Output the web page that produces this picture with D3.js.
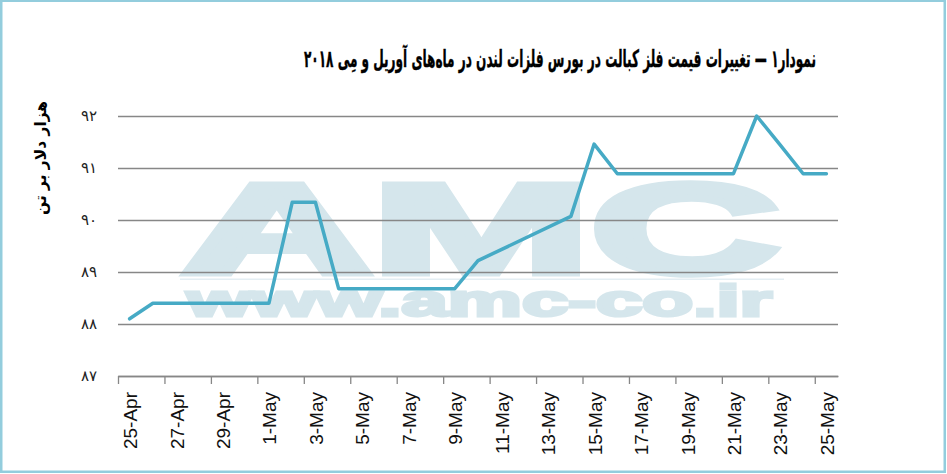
<!DOCTYPE html>
<html>
<head>
<meta charset="utf-8">
<script src="https://cdn.jsdelivr.net/npm/d3@7"></script>
<style>
  html, body { margin: 0; padding: 0; background: #fff; }
  svg { display: block; }
</style>
</head>
<body>
<svg id="chart" width="947" height="474"></svg>
<script>
// ---- data ----
const dates = ["2018-04-25","2018-04-26","2018-04-27","2018-04-30","2018-05-01","2018-05-02","2018-05-03","2018-05-04",
               "2018-05-08","2018-05-09","2018-05-10","2018-05-11","2018-05-14","2018-05-15","2018-05-16","2018-05-17",
               "2018-05-18","2018-05-21","2018-05-22","2018-05-23","2018-05-24","2018-05-25"];
const prices = [88.10, 88.40, 88.40, 88.40, 88.40, 90.34, 90.34, 88.68,
                88.68, 88.68, 89.22, 89.43, 90.07, 91.46, 90.89, 90.89,
                90.89, 90.89, 92.00, 91.45, 90.89, 90.89];
const xTickLabels = ["2018-04-25","2018-04-27","2018-04-29","2018-05-01","2018-05-03","2018-05-05","2018-05-07","2018-05-09",
                     "2018-05-11","2018-05-13","2018-05-15","2018-05-17","2018-05-19","2018-05-21","2018-05-23","2018-05-25"];
const yTicks = [87, 88, 89, 90, 91, 92];
const title = "نمودار۱ — تغییرات قیمت فلز کبالت در بورس فلزات لندن در ماه‌های آوریل و مِی ۲۰۱۸";
const yTitle = "هزار دلار بر تن";
const watermarkBig = "AMC";
const watermarkSmall = "www.amc-co.ir";

(function () {
// ---- layout ----
const svg = d3.select("#chart");
const pLeft = 118, pRight = 838, pTop = 116, pBottom = 376;
const parse = d3.utcParse("%Y-%m-%d");
const HALF = 12 * 3600 * 1000;

const x = d3.scaleUtc()
  .domain([new Date(+parse("2018-04-25") - HALF), new Date(+parse("2018-05-25") + HALF)])
  .range([pLeft, pRight]);
const y = d3.scaleLinear().domain([87, 92]).range([pBottom, pTop]);

const toFa = s => String(s).replace(/[0-9]/g, d => "۰۱۲۳۴۵۶۷۸۹"[+d]);

// frame
svg.append("rect").attr("x", 1.25).attr("y", 0.75).attr("width", 943.5).attr("height", 471)
  .attr("fill", "#fff").attr("stroke", "#93cddd").attr("stroke-width", 2.5);

// watermark
const wmColor = "rgb(213,230,236)";
const wm = svg.append("g").attr("fill", wmColor).attr("stroke", wmColor).attr("stroke-linejoin", "miter");
wm.append("text").attr("x", 182).attr("y", 273)
  .attr("font-family", "Liberation Sans, Arial, sans-serif").attr("font-weight", "bold")
  .attr("font-size", 128).attr("textLength", 598).attr("lengthAdjust", "spacingAndGlyphs")
  .attr("stroke-width", 7)
  .text(watermarkBig);
wm.append("rect").attr("x", 180).attr("y", 278.5).attr("width", 604).attr("height", 1.5)
  .attr("stroke", "none").attr("fill", "rgb(228,238,243)");
wm.append("text").attr("x", 187).attr("y", 316)
  .attr("font-family", "Liberation Sans, Arial, sans-serif").attr("font-weight", "bold")
  .attr("font-size", 44).attr("textLength", 585).attr("lengthAdjust", "spacingAndGlyphs")
  .attr("stroke-width", 3)
  .text(watermarkSmall);

// gridlines + y labels
const yAxis = d3.axisLeft(y).tickValues(yTicks).tickSize(-(pRight - pLeft)).tickPadding(21)
  .tickFormat(d => toFa(d));
const gy = svg.append("g").attr("transform", `translate(${pLeft},0)`).call(yAxis);
gy.select(".domain").remove();
gy.selectAll(".tick line").attr("stroke", "#878787").attr("stroke-width", 1.3);
gy.selectAll(".tick text").attr("font-family", "DejaVu Sans, sans-serif").attr("font-size", 15)
  .attr("letter-spacing", 3).attr("fill", "#222");

// x axis ticks (at category boundaries)
const boundaries = xTickLabels.map(s => new Date(+parse(s) - HALF));
const xAxisTicks = d3.axisBottom(x).tickValues(boundaries).tickSize(8).tickFormat("").tickSizeOuter(0);
const gx = svg.append("g").attr("transform", `translate(0,${pBottom})`).call(xAxisTicks);
gx.select(".domain").attr("stroke", "#878787").attr("stroke-width", 1.3);
gx.selectAll(".tick line").attr("stroke", "#878787").attr("stroke-width", 1.3);

// x labels at category centers
const fmt = d3.utcFormat("%-d-%b");
const xAxisLabels = d3.axisBottom(x).tickValues(xTickLabels.map(parse)).tickSize(0).tickFormat(fmt);
const gxl = svg.append("g").attr("transform", `translate(0,${pBottom})`).call(xAxisLabels);
gxl.select(".domain").remove();
gxl.selectAll(".tick text")
  .attr("font-family", "Liberation Sans, Arial, sans-serif").attr("font-size", 19).attr("fill", "#111")
  .attr("text-anchor", "end").attr("dy", null).attr("y", 0)
  .attr("transform", "translate(7,16) rotate(-90)");

// line
const line = d3.line().x((d, i) => x(parse(dates[i]))).y(d => y(d));
svg.append("path").datum(prices).attr("d", line)
  .attr("fill", "none").attr("stroke", "#46aac5").attr("stroke-width", 3.5)
  .attr("stroke-linejoin", "round").attr("stroke-linecap", "round");

// title
svg.append("text").attr("x", 560).attr("y", 67).attr("text-anchor", "middle")
  .attr("direction", "rtl")
  .attr("font-family", "DejaVu Sans, sans-serif").attr("font-weight", "bold").attr("font-size", 24)
  .attr("stroke", "#000").attr("stroke-width", 0.4)
  .attr("textLength", 512).attr("lengthAdjust", "spacingAndGlyphs")
  .attr("fill", "#000").text(title);

// y title
svg.append("text").attr("transform", "translate(46,158) rotate(-90)").attr("text-anchor", "middle")
  .attr("direction", "rtl")
  .attr("font-family", "DejaVu Sans, sans-serif").attr("font-weight", "bold").attr("font-size", 16)
  .attr("textLength", 114).attr("lengthAdjust", "spacingAndGlyphs")
  .attr("fill", "#000").text(yTitle);
})();
</script>
</body>
</html>
